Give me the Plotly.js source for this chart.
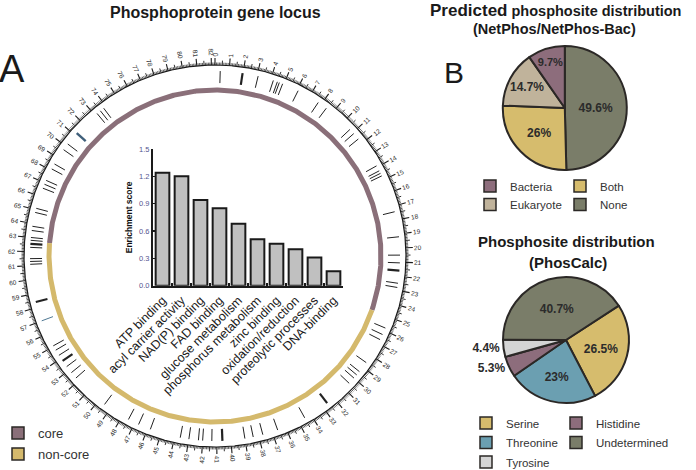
<!DOCTYPE html>
<html><head><meta charset="utf-8">
<script src="https://cdn.plot.ly/plotly-3.0.1.min.js"></script>
<style>html,body{margin:0;padding:0;background:#fff}#chart{width:696px;height:470px}</style>
</head><body><div id="chart"></div>
<script>
// ---------- Enrichment bar chart (inset) ----------
const categories = ['ATP binding','acyl carrier activity','NAD(P) binding','FAD binding','glucose metabolism','phosphorus metabolism','zinc binding','oxidation/reduction','proteolytic processes','DNA-binding'];
const enrichment = [1.24,1.20,0.94,0.85,0.68,0.51,0.46,0.40,0.31,0.16];
const yTicks = [0,0.3,0.6,0.9,1.2,1.5];

// ---------- Pie 1: predicted phosphosite distribution (clockwise from 12 o'clock) ----------
const pie1Labels = ['None','Both','Eukaryote','Bacteria'];
const pie1Values = [49.6,26,14.7,9.7];
const pie1Colors = ['#7a7d69','#d6bc6d','#c0b39b','#8d6d7c'];

// ---------- Pie 2: PhosCalc phosphosite distribution ----------
const pie2Labels = ['Serine','Threonine','Histidine','Tyrosine','Undetermined'];
const pie2Values = [26.5,23,5.3,4.4,40.7];
const pie2Colors = ['#d6bc6d','#6b9fb1','#8d6d7c','#d4d4d4','#7a7d69'];

// ---------- Genome circle ----------
const genomeLength = 82.25;           // kb, 0 at top, clockwise
const scaleLabels = Array.from({length:83},(_,i)=>i); // 0 .. 82 kb
const coreStart = 62.7, coreEnd = 24.9; // core region wraps through 0
const lociThin = [0.37,3.08,4.2,4.5,4.65,4.9,6.1,7.75,8.45,10.7,11.1,11.6,13.9,14.3,14.5,14.7,17.4,19.2,20.5,21.05,22.5,22.8,
  25.8,26.3,26.7,28.6,29.4,29.7,30.0,30.5,34.5,36.6,37.7,38.4,39.0,41.35,42.0,42.3,42.98,43.6,45.8,46.7,47.5,49.5,
  52.26,52.76,53.3,54.27,54.7,55.05,61.1,61.3,61.5,62.3,62.8,63.0,63.5,63.8,64.8,65.1,66.6,66.9,67.2,68.1,68.5,69.7,70.2,73.2,73.5,73.8];
const lociThick = [1.96,21.6,32.6,40.6,53.8,58.4,62.55];
const lociBlueThin = [57.0];
const lociBlueThick = [71.2];

// legend entries
const coreNames = ['core','non-core'];
const coreColors = ['#8a6f79','#d4b96c'];
const pie1LegendCol1 = ['Bacteria','Eukaryote'];
const pie1LegendCol2 = ['Both','None'];
const pie2LegendCol1 = ['Serine','Threonine','Tyrosine'];
const pie2LegendCol2 = ['Histidine','Undetermined'];

// geometry helpers (pixel radius -> axis units)
const S = 191;
function pol(p, r){ const t = p/genomeLength*2*Math.PI; return [r/S*Math.sin(t), r/S*Math.cos(t)]; }
function segs(list, r0, r1){ const x=[],y=[]; list.forEach(p=>{const a=pol(p,r0),b=pol(p,r1); x.push(a[0],b[0],null); y.push(a[1],b[1],null);}); return {x,y}; }
function arc(p0, p1, r){ const x=[],y=[]; for(let p=p0;p<=p1+1e-9;p+=0.05){const a=pol(p,r); x.push(a[0]); y.push(a[1]);} return {x,y}; }

const minorT=[],midT=[],majorT=[];
for(let i=0;i<=822;i++){ const p=i/10; if(i%10===0) majorT.push(p); else if(i%5===0) midT.push(p); else minorT.push(p); }

const traces = [];
const circ = arc(0, genomeLength, 191);
traces.push({type:'scatter',mode:'lines',x:circ.x,y:circ.y,xaxis:'x2',yaxis:'y2',line:{color:'#1a1a1a',width:1.2},showlegend:false,hoverinfo:'skip'});
[[minorT,193.5,0.7],[midT,195.5,0.9],[majorT,198,1.1]].forEach(([arr,r1,w])=>{
  const s=segs(arr,191,r1);
  traces.push({type:'scatter',mode:'lines',x:s.x,y:s.y,xaxis:'x2',yaxis:'y2',line:{color:'#1a1a1a',width:w},showlegend:false,hoverinfo:'skip'});
});
const coreA = arc(coreStart, genomeLength+coreEnd, 166);
const nonA = arc(coreEnd, coreStart, 166);
traces.push({type:'scatter',mode:'lines',x:coreA.x,y:coreA.y,xaxis:'x2',yaxis:'y2',line:{color:coreColors[0],width:5},showlegend:false,hoverinfo:'skip'});
traces.push({type:'scatter',mode:'lines',x:nonA.x,y:nonA.y,xaxis:'x2',yaxis:'y2',line:{color:coreColors[1],width:5},showlegend:false,hoverinfo:'skip'});
[[lociThin,'#222',1],[lociThick,'#222',2.2],[lociBlueThin,'#4f7893',1],[lociBlueThick,'#3f5f7a',2.4]].forEach(([arr,c,w])=>{
  const s=segs(arr,173,185);
  traces.push({type:'scatter',mode:'lines',x:s.x,y:s.y,xaxis:'x2',yaxis:'y2',line:{color:c,width:w},showlegend:false,hoverinfo:'skip'});
});

// bar chart
traces.push({type:'bar',x:categories,y:enrichment,xaxis:'x',yaxis:'y',marker:{color:'#c0c0c0',line:{color:'#1a1a1a',width:2}},showlegend:false,hoverinfo:'skip'});

// pies
traces.push({type:'pie',labels:pie1Labels,values:pie1Values,sort:false,direction:'clockwise',rotation:0,
  marker:{colors:pie1Colors,line:{color:'#2b2826',width:2}},texttemplate:'<b>%{value}%</b>',textposition:'inside',
  insidetextorientation:'horizontal',textfont:{size:12,color:'#2b2b2b'},domain:{x:[0.7213,0.9017],y:[0.6383,0.9021]},showlegend:false,hoverinfo:'skip'});
traces.push({type:'pie',labels:pie2Labels,values:pie2Values,sort:false,direction:'clockwise',rotation:57,
  marker:{colors:pie2Colors,line:{color:'#2b2826',width:2}},texttemplate:'<b>%{value}%</b>',textposition:['inside','inside','outside','outside','inside'],
  insidetextorientation:'horizontal',textfont:{size:12,color:'#2b2b2b'},domain:{x:[0.7227,0.9037],y:[0.1426,0.4106]},showlegend:false,hoverinfo:'skip'});

// legend-only bars on a hidden subplot (placed outside its range); one legend box per entry
function colorOf(name){ const i1=pie1Labels.indexOf(name); if(i1>=0) return pie1Colors[i1]; return pie2Colors[pie2Labels.indexOf(name)]; }
const legendSpecs = []; // [name, color, left px, row centre px, font size]
coreNames.forEach((n,i)=>legendSpecs.push([n,coreColors[i],-2,433+i*21,13]));
pie1LegendCol1.forEach((n,i)=>legendSpecs.push([n,colorOf(n),470,186+i*18.6,11.5]));
pie1LegendCol2.forEach((n,i)=>legendSpecs.push([n,colorOf(n),560,186+i*18.6,11.5]));
pie2LegendCol1.forEach((n,i)=>legendSpecs.push([n,colorOf(n),466,423+i*19.5,11.5]));
pie2LegendCol2.forEach((n,i)=>legendSpecs.push([n,colorOf(n),556,423+i*19.5,11.5]));

const layout = {
  width:696,height:470,margin:{l:0,r:0,t:0,b:0,autoexpand:false},paper_bgcolor:'#fff',plot_bgcolor:'rgba(0,0,0,0)',
  font:{family:'Liberation Sans, Arial, sans-serif'},
  bargap:0.28,
  xaxis:{domain:[153/696,343/696],anchor:'y',type:'category',range:[-0.5,9.5],showline:true,linecolor:'#1a1a1a',linewidth:2.5,
    ticks:'inside',tickson:'boundaries',ticklen:3,tickwidth:2,tickcolor:'#1a1a1a',tickangle:-45,tickfont:{size:12.5,color:'#1a1a1a'},
    showgrid:false,zeroline:false,fixedrange:true},
  yaxis:{domain:[0.392,0.683],anchor:'x',range:[0,1.5],tickvals:yTicks,ticktext:yTicks.map(v=>v.toFixed(1)),showline:true,linecolor:'#1a1a1a',linewidth:2,
    ticks:'inside',ticklen:3,tickwidth:1.5,tickcolor:'#1a1a1a',tickfont:{size:7.5,color:'#55558f'},
    title:{text:'<b>Enrichment score</b>',font:{size:8.5,color:'#111'},standoff:5},showgrid:false,zeroline:false,fixedrange:true},
  xaxis2:{domain:[0,0.62],anchor:'y2',range:[-215/S,(0.62*696-215)/S],visible:false,fixedrange:true},
  yaxis2:{domain:[0,1],anchor:'x2',range:[-(470-256)/S,256/S],visible:false,fixedrange:true},
  xaxis3:{domain:[0,0.01],anchor:'y3',range:[5,6],visible:false,fixedrange:true},
  yaxis3:{domain:[0,0.01],anchor:'x3',range:[5,6],visible:false,fixedrange:true},
  showlegend:true
};
legendSpecs.forEach(([name,color,lx,cy,fs],i)=>{
  const id = i===0 ? 'legend' : 'legend'+(i+1);
  traces.push({type:'bar',x:[0],y:[1],xaxis:'x3',yaxis:'y3',name:name,legend:id,marker:{color:color,line:{color:'#2b2826',width:1.5}},showlegend:true,hoverinfo:'skip'});
  layout[id] = {x:lx/696,y:1-cy/470,xanchor:'left',yanchor:'middle',orientation:'v',bgcolor:'rgba(0,0,0,0)',font:{size:fs,color:'#333'}};
});

const annotations = [];
scaleLabels.forEach(v=>{
  const t = v/genomeLength*360;
  const nd = String(v).length;
  const [x,y] = pol(v, 199.5 + nd*2);
  const ang = t<=180 ? t-90 : t-270;
  annotations.push({xref:'x2',yref:'y2',x:x,y:y,text:String(v),textangle:ang,showarrow:false,font:{size:6.5,color:'#2a2a2a'},xanchor:'center',yanchor:'middle'});
});
function pa(x,y,text,size){ annotations.push({xref:'paper',yref:'paper',x:x/696,y:1-y/470,text:text,showarrow:false,xanchor:'center',yanchor:'middle',font:{size:size,color:'#1a1a1a'}}); }
pa(215.5,12,'<b>Phosphoprotein gene locus</b>',16);
pa(12,69,'A',38);
pa(454,72.5,'B',30);
pa(555.5,10,"<b><span style='font-size:17px'>Predicted</span> phosphosite distribution</b>",14.5);
pa(554,29.5,'<b>(NetPhos/NetPhos-Bac)</b>',14.5);
pa(566.5,242,'<b>Phosphosite distribution</b>',15);
pa(568,262.5,'<b>(PhosCalc)</b>',15);
layout.annotations = annotations;

Plotly.newPlot('chart',traces,layout,{displayModeBar:false,staticPlot:true});
</script></body></html>
